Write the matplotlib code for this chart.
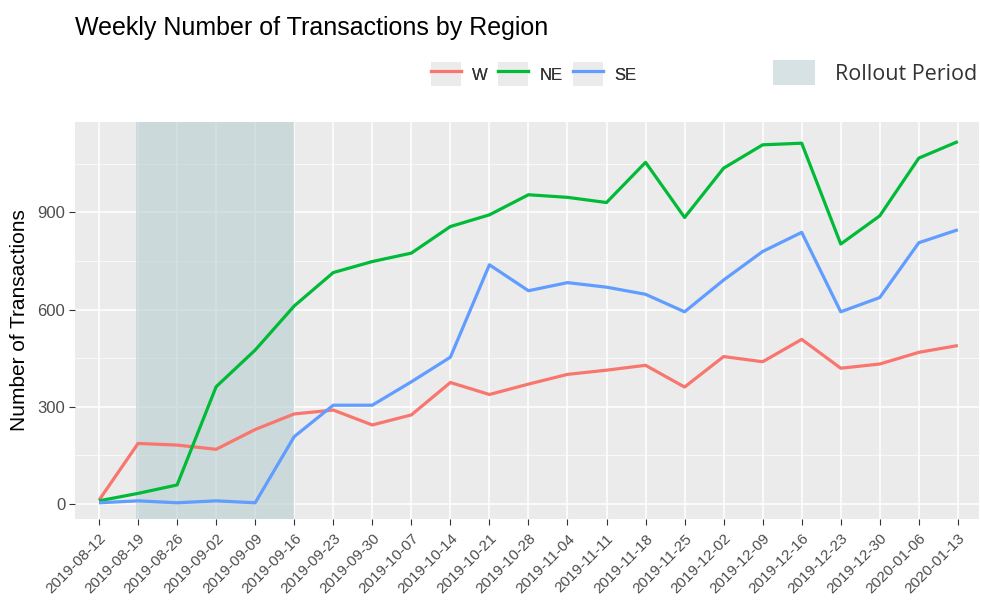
import matplotlib
matplotlib.use('Agg')
import matplotlib.pyplot as plt
from matplotlib.patches import Patch
from matplotlib.lines import Line2D
from matplotlib.legend_handler import HandlerTuple
import pandas as pd

weeks = ['2019-08-12', '2019-08-19', '2019-08-26', '2019-09-02', '2019-09-09',
         '2019-09-16', '2019-09-23', '2019-09-30', '2019-10-07', '2019-10-14',
         '2019-10-21', '2019-10-28', '2019-11-04', '2019-11-11', '2019-11-18',
         '2019-11-25', '2019-12-02', '2019-12-09', '2019-12-16', '2019-12-23',
         '2019-12-30', '2020-01-06', '2020-01-13']
w_vals = [12, 187, 182, 169, 230, 278, 290, 244, 275, 375, 338, 370,
          400, 413, 428, 361, 455, 439, 508, 419, 432, 468, 489]
ne_vals = [10, 33, 59, 362, 475, 611, 714, 748, 774, 856, 892, 954,
           946, 930, 1054, 884, 1036, 1108, 1113, 802, 889, 1067, 1118]
se_vals = [4, 10, 4, 10, 4, 208, 305, 305, 377, 453, 738, 658,
           683, 669, 647, 593, 691, 779, 838, 593, 637, 806, 846]
regions = ['W', 'NE', 'SE']
colors = ['#F8766D', '#00BA38', '#619CFF']
rollout = ('2019-08-19', '2019-09-16')
yticks = [0, 300, 600, 900]

dates = pd.to_datetime(weeks)

plt.rcParams['font.family'] = ['Liberation Sans', 'DejaVu Sans']
fig = plt.figure(figsize=(9.81, 6.0), dpi=100)
ax = fig.add_axes([0.0765, 0.135, 0.9215, 0.662])
ax.set_facecolor('#ebebeb')

# rollout shading
ax.axvspan(pd.Timestamp(rollout[0]) - pd.Timedelta(days=0.4), pd.Timestamp(rollout[1]),
           color='#b8cdd0', alpha=0.6, lw=0, zorder=1)

for name, vals, c in zip(regions, [w_vals, ne_vals, se_vals], colors):
    ax.plot(dates, vals, color=c, lw=2.3, zorder=3, solid_capstyle='butt')

ax.set_xlim(dates[0] - pd.Timedelta(days=4.3), dates[-1] + pd.Timedelta(days=3.8))
ax.set_ylim(-46, 1179)
ax.set_xticks(dates)
ax.set_xticklabels(weeks, rotation=45, ha='right', rotation_mode='anchor',
                   fontsize=11, color='#4d4d4d')
ax.set_yticks(yticks)
ax.set_yticklabels([str(v) for v in yticks], fontsize=12, color='#4d4d4d')
ax.set_yticks([150, 450, 750, 1050], minor=True)
ax.grid(True, which='major', color='white', lw=1.1, zorder=0)
ax.grid(True, which='minor', axis='y', color='white', lw=0.5, zorder=0)
ax.set_axisbelow(True)
ax.tick_params(which='major', length=4, color='#333333', width=0.8, pad=3)
ax.tick_params(axis='x', pad=5)
ax.tick_params(which='minor', length=0)
for s in ax.spines.values():
    s.set_visible(False)

ax.set_ylabel('Number of Transactions', fontsize=15, labelpad=6)

fig.text(0.0765, 0.953, 'Weekly Number of Transactions by Region',
         fontsize=18, ha='left', va='center')

handles = [(Patch(facecolor='#ebebeb', edgecolor='none'),
            Line2D([], [], color=c, lw=2.3)) for c in colors]
leg = fig.legend(handles, regions, ncol=3, loc='center',
                 bbox_to_anchor=(0.544, 0.876), frameon=False,
                 handler_map={tuple: HandlerTuple(ndivide=1)},
                 handlelength=1.8, handleheight=1.85, handletextpad=0.65,
                 columnspacing=0.65, fontsize=12)
for t in leg.get_texts():
    t.set_color('#333333')
fig.add_artist(leg)

leg2 = fig.legend([Patch(facecolor='#d6e2e4', edgecolor='none')], ['Rollout Period'],
                  loc='center', bbox_to_anchor=(0.892, 0.879), frameon=False,
                  handlelength=1.95, handleheight=1.35, handletextpad=0.93,
                  prop={'family': 'Open Sans', 'size': 15.5})
for t in leg2.get_texts():
    t.set_color('#333333')

fig.savefig('out.png', dpi=100)
